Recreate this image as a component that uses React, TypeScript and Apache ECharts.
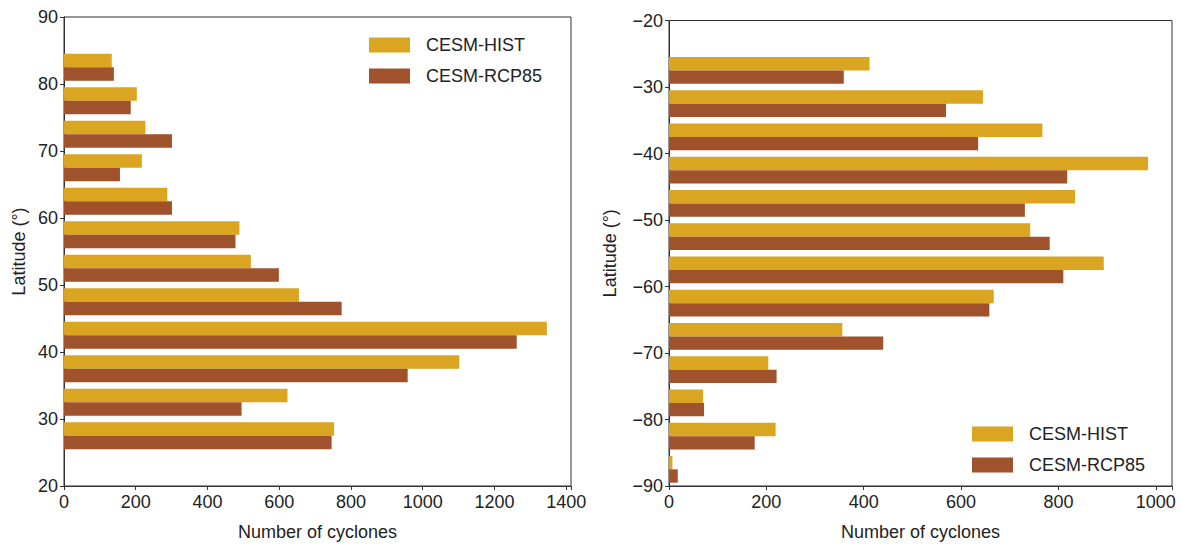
import React, { useEffect, useRef } from "react";
import * as echarts from "echarts";

const latN = [27.5, 32.5, 37.5, 42.5, 47.5, 52.5, 57.5, 62.5, 67.5, 72.5, 77.5, 82.5];
const histN = [753, 623, 1102, 1346, 655, 521, 489, 288, 217, 227, 203, 133];
const rcpN = [746, 495, 958, 1262, 774, 599, 478, 301, 156, 301, 186, 139];

const latS = [-87.5, -82.5, -77.5, -72.5, -67.5, -62.5, -57.5, -52.5, -47.5, -42.5, -37.5, -32.5, -27.5];
const histS = [7, 219, 70, 204, 356, 667, 893, 742, 834, 984, 767, 645, 412];
const rcpS = [18, 176, 72, 221, 440, 658, 810, 782, 731, 818, 635, 569, 359];

const ticksX = 200;
const HIST = "CESM-HIST";
const RCP = "CESM-RCP85";
const cHist = "#DAA520";
const cRcp = "#A0522D";
const FONT = "Liberation Sans";

function minusFmt(v: number) {
  return v < 0 ? "\u2212" + Math.abs(v) : String(v);
}

function makeRender(isHist: boolean, color: string) {
  return (params: any, api: any) => {
    const v = api.value(0);
    const c = api.value(1);
    const top = isHist ? c + 2 : c;
    const bot = isHist ? c : c - 2;
    const p0 = api.coord([0, top]);
    const p1 = api.coord([v, bot]);
    return {
      type: "rect",
      shape: { x: p0[0], y: p0[1], width: p1[0] - p0[0], height: p1[1] - p0[1] },
      style: { fill: color },
    };
  };
}

export default function App() {
  const ref = useRef<HTMLDivElement>(null);
  useEffect(() => {
    if (!ref.current) return;
    const chart = echarts.init(ref.current, undefined, { renderer: "svg" });
    const maxN = Math.max(...histN, ...rcpN) * 1.05;
    const maxS = Math.max(...histS, ...rcpS) * 1.05;
    const axisLine = { show: true, lineStyle: { color: "#333", width: 1 } };
    const axisTick = { show: true, inside: false, length: 4, lineStyle: { color: "#333" } };
    const labelStyle = { fontFamily: FONT, fontSize: 18, color: "#222" };
    const xAxisCommon = (max: number, idx: number) => ({
      type: "value",
      gridIndex: idx,
      min: 0,
      max,
      interval: ticksX,
      name: "Number of cyclones",
      nameLocation: "middle",
      nameGap: 37,
      nameTextStyle: { ...labelStyle },
      axisLine,
      axisTick,
      splitLine: { show: false },
      axisLabel: {
        ...labelStyle,
        margin: 7,
        formatter: (v: number) => (Math.abs(v % ticksX) < 1e-6 ? String(v) : ""),
      },
    });
    const yAxisCommon = (min: number, max: number, idx: number, gap: number) => ({
      type: "value",
      gridIndex: idx,
      min,
      max,
      interval: 10,
      name: "Latitude (\u00B0)",
      nameLocation: "middle",
      nameGap: gap,
      nameRotate: 90,
      nameTextStyle: { ...labelStyle },
      axisLine,
      axisTick,
      splitLine: { show: false },
      axisLabel: { ...labelStyle, margin: 6, formatter: minusFmt },
    });
    const legendCommon = {
      orient: "vertical",
      icon: "rect",
      itemWidth: 41,
      itemHeight: 15,
      itemGap: 13,
      data: [HIST, RCP],
      selectedMode: false,
      textStyle: { ...labelStyle, fontSize: 18, lineHeight: 18, padding: [0, 0, 0, 11] },
    };
    chart.setOption({
      animation: false,
      grid: [
        { left: 64, top: 17, width: 507, height: 478, show: true, borderColor: "#333", borderWidth: 1 },
        { left: 669, top: 20.5, width: 503, height: 474.5, show: true, borderColor: "#333", borderWidth: 1 },
      ],
      xAxis: [xAxisCommon(maxN, 0), xAxisCommon(maxS, 1)],
      yAxis: [yAxisCommon(20, 90, 0, 36), yAxisCommon(-90, -20, 1, 50)],
      legend: [
        { ...legendCommon, left: 364, top: 31 },
        { ...legendCommon, left: 967, top: 420 },
      ],
      series: [
        {
          type: "custom", name: HIST, xAxisIndex: 0, yAxisIndex: 0,
          itemStyle: { color: cHist }, encode: { x: 0, y: 1 },
          renderItem: makeRender(true, cHist),
          data: histN.map((v, i) => [v, latN[i]]),
        },
        {
          type: "custom", name: RCP, xAxisIndex: 0, yAxisIndex: 0,
          itemStyle: { color: cRcp }, encode: { x: 0, y: 1 },
          renderItem: makeRender(false, cRcp),
          data: rcpN.map((v, i) => [v, latN[i]]),
        },
        {
          type: "custom", name: HIST, xAxisIndex: 1, yAxisIndex: 1,
          itemStyle: { color: cHist }, encode: { x: 0, y: 1 },
          renderItem: makeRender(true, cHist),
          data: histS.map((v, i) => [v, latS[i]]),
        },
        {
          type: "custom", name: RCP, xAxisIndex: 1, yAxisIndex: 1,
          itemStyle: { color: cRcp }, encode: { x: 0, y: 1 },
          renderItem: makeRender(false, cRcp),
          data: rcpS.map((v, i) => [v, latS[i]]),
        },
      ],
    });
    return () => chart.dispose();
  }, []);
  return (
    <div
      ref={ref}
      style={{ position: "fixed", left: 0, top: 0, width: 1181, height: 546, background: "#fff" }}
    />
  );
}
